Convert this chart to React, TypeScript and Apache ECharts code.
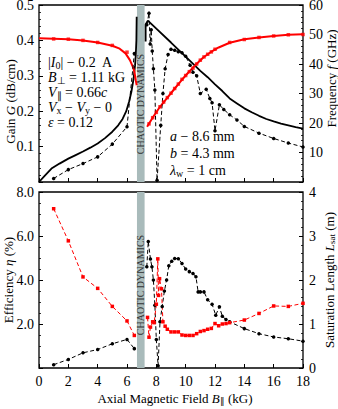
import React, { useEffect, useRef } from 'react';
import * as echarts from 'echarts';

const FONT = "'Liberation Serif', 'Times New Roman', serif";

// ---------- Top panel: gain (left axis) and frequency (right axis) ----------
const gainTheoryLeftB = [0, 0.4, 0.85, 1.4, 2, 2.5, 3, 3.5, 4, 4.5, 5, 5.4, 5.7, 5.95, 6.15, 6.3, 6.45, 6.55, 6.6, 6.64, 6.66];
const gainTheoryLeftG = [0, 0.018, 0.038, 0.052, 0.066, 0.076, 0.086, 0.097, 0.109, 0.124, 0.142, 0.16, 0.178, 0.2, 0.228, 0.255, 0.292, 0.33, 0.36, 0.4, 0.467];
const gainTheoryRightB = [7.27, 7.27, 7.42, 8, 9, 10, 11, 11.5, 12, 12.5, 13, 13.5, 14, 14.5, 15, 15.5, 16, 16.5, 17, 17.5, 18];
const gainTheoryRightG = [0.397, 0.445, 0.456, 0.433, 0.394, 0.354, 0.314, 0.296, 0.276, 0.257, 0.236, 0.222, 0.208, 0.197, 0.187, 0.178, 0.171, 0.165, 0.16, 0.155, 0.151];

const gainSimLeftB = [1, 2, 3, 4, 5, 6, 6.5];
const gainSimLeftG = [0.01, 0.035, 0.052, 0.071, 0.107, 0.156, 0.363];
const gainSimRightB = [7.35, 7.5, 7.58, 7.65, 7.72, 7.8, 7.9, 8.05, 8.3, 8.45, 8.6, 8.8, 9.0, 9.25, 9.5, 9.75, 10.0, 10.3, 10.5, 10.75, 11.0, 11.4, 11.65, 11.8, 12.0, 12.3, 12.6, 13.0, 13.5, 14.0, 15.0, 16.0, 17.0, 18.0];
const gainSimRightG = [0.444, 0.477, 0.39, 0.43, 0.37, 0.32, 0.26, 0.005, 0.16, 0.25, 0.32, 0.36, 0.375, 0.372, 0.368, 0.365, 0.355, 0.33, 0.31, 0.3, 0.25, 0.262, 0.236, 0.224, 0.145, 0.218, 0.205, 0.19, 0.175, 0.157, 0.138, 0.123, 0.11, 0.099];

const freqTheoryLeftB = [0, 1, 2, 3, 4, 5, 5.5, 5.9, 6.2, 6.4, 6.5, 6.6, 6.66];
const freqTheoryLeftF = [48.7, 48.6, 48.4, 48.0, 47.3, 46.2, 45.2, 43.6, 41.3, 39, 37.5, 34.5, 32.8];
const freqTheoryRightB = [7.37, 7.8, 8.25, 8.7, 9.16, 9.7, 10.2, 10.7, 11.2, 11.7, 12.25, 13, 14, 15, 16, 17, 18];
const freqTheoryRightF = [18.7, 22.2, 25.5, 28.3, 31.1, 34.4, 37.2, 39.8, 42.2, 44.0, 45.6, 47.2, 48.4, 49.0, 49.5, 49.9, 50.1];
const freqSimB = [1, 2, 3, 4, 5, 6, 7.5, 7.75, 8.0, 8.25, 8.5, 8.75, 9.0, 9.25, 9.5, 9.75, 10.0, 10.25, 10.5, 10.75, 11.0, 11.25, 11.5, 11.75, 12.0, 13, 14, 15, 16, 17, 18];
const freqSimF = [48.5, 48.4, 48.0, 47.3, 46.3, 44.0, 19.7, 21.8, 23.6, 25.5, 27.1, 28.6, 30.1, 31.7, 33.2, 34.8, 36.1, 37.4, 38.6, 40.0, 41.3, 42.4, 43.3, 44.1, 45.0, 47.3, 48.3, 49.0, 49.5, 49.9, 50.0];

// ---------- Bottom panel: efficiency (left axis) and saturation length (right axis) ----------
const effLeftB = [1, 2, 3, 4, 5, 6, 6.5];
const effLeftV = [0.15, 0.39, 0.69, 0.84, 1.1, 1.3, 0.88];
const effRightB = [7.35, 7.45, 7.6, 7.7, 7.8, 7.9, 8.0, 8.12, 8.25, 8.4, 8.55, 8.7, 8.85, 9.05, 9.25, 9.5, 9.75, 10.0, 10.25, 10.5, 10.7, 10.85, 11.0, 11.25, 11.5, 11.8, 12.05, 12.3, 12.5, 12.75, 13.0, 14.0, 15.0, 16.0, 17.0, 18.0];
const effRightV = [4.6, 5.75, 4.95, 4.6, 4.0, 2.85, 1.3, 0.1, 2.1, 2.8, 3.5, 4.0, 4.65, 4.85, 4.98, 4.97, 4.75, 4.5, 4.38, 4.3, 4.15, 3.46, 3.46, 3.46, 3.1, 2.9, 2.4, 2.78, 2.35, 2.2, 2.1, 1.79, 1.56, 1.41, 1.33, 1.22];

const lsatLeftB = [1, 2, 3, 4, 5, 6, 6.5];
const lsatLeftL = [3.62, 2.89, 2.07, 1.81, 1.4, 1.07, 0.74];
const lsatRightB = [7.4, 7.5, 7.6, 7.75, 7.85, 8.0, 8.1, 8.15, 8.22, 8.35, 8.45, 8.6, 8.75, 9.0, 9.25, 9.5, 9.75, 10.0, 10.25, 10.5, 10.75, 11.0, 11.25, 11.5, 11.75, 12.0, 12.25, 12.5, 12.75, 13.0, 14.0, 15.0, 16.0, 17.0, 18.0];
const lsatRightL = [1.15, 0.7, 0.93, 1.05, 1.03, 1.45, 2.48, 1.65, 2.03, 1.8, 1.05, 0.95, 0.88, 0.82, 0.82, 0.82, 0.75, 0.74, 0.74, 0.74, 0.78, 0.83, 0.85, 0.88, 0.9, 1.01, 0.96, 1.0, 1.01, 1.03, 1.09, 1.24, 1.41, 1.4, 1.47];

const chaosBand = [6.68, 7.2];

const zip = (xs: number[], ys: number[]) => xs.map((x, i) => [x, ys[i]]);

const richBase = {
  n: { fontSize: 13, fontFamily: FONT, color: '#000' },
  i: { fontSize: 13, fontFamily: FONT, fontStyle: 'italic', color: '#000' },
  s: { fontSize: 9, fontFamily: FONT, color: '#000', verticalAlign: 'bottom', lineHeight: 10 },
};

const annRich = {
  n: { fontSize: 14, fontFamily: FONT, fill: '#000', lineHeight: 16 },
  i: { fontSize: 14, fontFamily: FONT, fontStyle: 'italic', fill: '#000', lineHeight: 16 },
  s: { fontSize: 10, fontFamily: FONT, fill: '#000', verticalAlign: 'bottom', lineHeight: 11 },
};

export default function App() {
  const ref = useRef<HTMLDivElement>(null);
  useEffect(() => {
    if (!ref.current) return;
    const chart = echarts.init(ref.current, null, { renderer: 'svg' });
    const tickStyle = { show: true, inside: true, length: 4, lineStyle: { color: '#000', width: 1 } };
    const minor = { show: true, splitNumber: 5, length: 2, lineStyle: { color: '#000', width: 0.8 } };
    const lbl = { fontSize: 14, fontFamily: FONT, color: '#000' };
    const band = {
      silent: true,
      itemStyle: { color: '#a9bbbb' },
      data: [[{ xAxis: chaosBand[0] }, { xAxis: chaosBand[1] }]],
    };
    const solid = (color: string, width: number) => ({ type: 'line', symbol: 'none', lineStyle: { color, width } });
    const dashed = (color: string, symbol: string) => ({
      type: 'line',
      symbol,
      symbolSize: 3.5,
      itemStyle: { color },
      lineStyle: { color, width: 1, type: [4, 2.5] },
    });
    const yName = (name: string, gap: number, padding: number[] = [0, 0, 0, 0]) => ({
      name, nameLocation: 'middle', nameRotate: 90, nameGap: gap, nameMoveOverlap: false,
      nameTextStyle: { rich: richBase, padding },
    });

    const option: any = {
      animation: false,
      backgroundColor: '#fff',
      textStyle: { fontFamily: FONT },
      grid: [
        { left: 39, width: 264, top: 5, height: 177, show: true, borderColor: '#000', borderWidth: 1.3, backgroundColor: 'transparent', containLabel: false, outerBoundsMode: 'none' },
        { left: 39, width: 264, top: 192, height: 176, show: true, borderColor: '#000', borderWidth: 1.3, backgroundColor: 'transparent', containLabel: false, outerBoundsMode: 'none' },
      ],
      xAxis: [
        {
          gridIndex: 0, type: 'value', min: 0, max: 18, interval: 2,
          axisLine: { show: false }, axisTick: tickStyle, axisLabel: { show: false }, splitLine: { show: false },
        },
        {
          gridIndex: 1, type: 'value', min: 0, max: 18, interval: 2,
          axisLine: { show: false }, axisTick: tickStyle, splitLine: { show: false },
          axisLabel: { ...lbl, margin: 6 },
          name: '{n|Axial Magnetic Field }{i|B}{s|∥}{n| (kG)}',
          nameLocation: 'middle', nameGap: 24, nameMoveOverlap: false,
          nameTextStyle: { rich: richBase, padding: [0, 0, 0, 8] },
        },
      ],
      yAxis: [
        {
          gridIndex: 0, type: 'value', min: 0, max: 0.5, interval: 0.1, position: 'left',
          axisLine: { show: false }, axisTick: tickStyle, minorTick: minor, splitLine: { show: false },
          axisLabel: { ...lbl, margin: 5, formatter: (v: number) => (v === 0 ? '' : v.toFixed(1)) },
          ...yName('{n|Gain }{i|G}{n| (dB/cm)}', 22, [0, 16, 0, 0]),
        },
        {
          gridIndex: 0, type: 'value', min: 0, max: 60, interval: 10, position: 'right',
          axisLine: { show: false }, axisTick: tickStyle, minorTick: minor, splitLine: { show: false },
          axisLabel: { ...lbl, margin: 6, formatter: (v: number) => (v === 0 ? '' : String(v)) },
          ...yName('{n|Frequency }{i|f}{n| (GHz)}', 22, [0, 0, 0, 30]),
        },
        {
          gridIndex: 1, type: 'value', min: 0, max: 8, interval: 2, position: 'left',
          axisLine: { show: false }, axisTick: tickStyle, minorTick: { ...minor, splitNumber: 4 }, splitLine: { show: false },
          axisLabel: { ...lbl, margin: 5, formatter: (v: number) => (v === 0 ? '' : v.toFixed(1)) },
          ...yName('{n|Efficiency }{i|η}{n| (%)}', 24),
        },
        {
          gridIndex: 1, type: 'value', min: 0, max: 4, interval: 1, position: 'right',
          axisLine: { show: false }, axisTick: tickStyle, minorTick: minor, splitLine: { show: false },
          axisLabel: { ...lbl, margin: 6 },
          ...yName('{n|Saturation Length }{i|L}{s|sat}{n| (m)}', 20),
        },
      ],
      series: [
        { ...solid('#000', 1.8), xAxisIndex: 0, yAxisIndex: 0, data: zip(gainTheoryLeftB, gainTheoryLeftG), markArea: band, z: 3 },
        { ...solid('#000', 1.8), xAxisIndex: 0, yAxisIndex: 0, data: zip(gainTheoryRightB, gainTheoryRightG), z: 3 },
        { ...dashed('#000', 'circle'), xAxisIndex: 0, yAxisIndex: 0, data: zip(gainSimLeftB, gainSimLeftG), z: 4 },
        { ...dashed('#000', 'circle'), xAxisIndex: 0, yAxisIndex: 0, data: zip(gainSimRightB, gainSimRightG), z: 4 },
        { ...solid('#ff0000', 2), xAxisIndex: 0, yAxisIndex: 1, data: zip(freqTheoryLeftB, freqTheoryLeftF), z: 3 },
        { ...solid('#ff0000', 2), xAxisIndex: 0, yAxisIndex: 1, data: zip(freqTheoryRightB, freqTheoryRightF), z: 3 },
        { type: 'scatter', xAxisIndex: 0, yAxisIndex: 1, symbol: 'rect', symbolSize: 3.5, itemStyle: { color: '#ff0000' }, data: zip(freqSimB, freqSimF), z: 4 },
        { ...dashed('#000', 'circle'), xAxisIndex: 1, yAxisIndex: 2, data: zip(effLeftB, effLeftV), markArea: band, z: 4 },
        { ...dashed('#000', 'circle'), xAxisIndex: 1, yAxisIndex: 2, data: zip(effRightB, effRightV), z: 4 },
        { ...dashed('#ff0000', 'rect'), xAxisIndex: 1, yAxisIndex: 3, data: zip(lsatLeftB, lsatLeftL), z: 4 },
        { ...dashed('#ff0000', 'rect'), xAxisIndex: 1, yAxisIndex: 3, data: zip(lsatRightB, lsatRightL), z: 4 },
      ],
      graphic: [
        ...[
          '{n||}{i|I}{s|0}{n|| − 0.2  A}',
          '{i|B}{s|⊥}{n| = 1.11 kG}',
          '{i|V}{s|∥}{n| = 0.66}{i|c}',
          '{i|V}{s|x}{n| − }{i|V}{s|y}{n| − 0}',
          '{i|ε}{n| = 0.12}',
        ].map((t, k) => ({
          type: 'text', x: 48, y: 62 + k * 15, z: 10,
          style: { text: t, rich: annRich, verticalAlign: 'middle', align: 'left' },
        })),
        ...[
          '{i|a}{n| − 8.6 mm}',
          '{i|b}{n| = 4.3 mm}',
          '{i|λ}{s|w}{n| = 1 cm}',
        ].map((t, k) => ({
          type: 'text', x: 170, y: 136 + k * 17, z: 10,
          style: { text: t, rich: annRich, verticalAlign: 'middle', align: 'left' },
        })),
        {
          type: 'text', x: 140.5, y: 104, rotation: Math.PI / 2, z: 10,
          style: { text: 'CHAOTIC DYNAMICS', fontSize: 10, fontFamily: FONT, fill: '#333', align: 'center', verticalAlign: 'middle' },
        },
        {
          type: 'text', x: 140.5, y: 285, rotation: Math.PI / 2, z: 10,
          style: { text: 'CHAOTIC DYNAMICS', fontSize: 10, fontFamily: FONT, fill: '#333', align: 'center', verticalAlign: 'middle' },
        },
      ],
    };
    chart.setOption(option);
    return () => chart.dispose();
  }, []);
  return <div ref={ref} style={{ position: 'absolute', left: 0, top: 0, width: 338, height: 409 }} />;
}
